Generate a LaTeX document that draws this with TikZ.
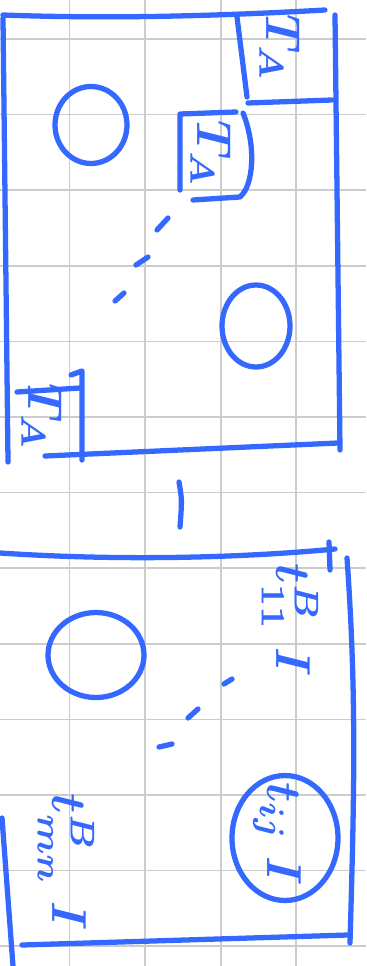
\documentclass[tikz,border=0pt]{standalone}
\usepackage{xcolor}
\usetikzlibrary{shapes.geometric}
\definecolor{pen}{RGB}{52,104,255}
\tikzset{
  ink/.style  ={draw=pen, line width=3pt, line cap=round, line join=round},
  paper/.style={draw=black!20, line width=1pt},
  zero/.style ={ink, ellipse, inner sep=0pt},
  entry/.style={text=pen, rotate=-90, scale=2.8, inner sep=0pt, font=\boldmath},
}

\begin{document}
\begin{tikzpicture}[x=0.02cm, y=-0.02cm]
  \useasboundingbox (0,0) rectangle (366,966);
  \foreach \k in {0,...,3} \draw[paper] (69.5+75.6*\k,0) -- (69.5+75.6*\k,966);
  \foreach \k in {0,...,12} \draw[paper] (0,39+75.6*\k) -- (366,39+75.6*\k);

  % upper block
  \draw[ink] (3,15) .. controls (110,19) and (220,16) .. (325,10);
  \draw[ink] (3,18) -- (8,462);
  \draw[ink] (335,15) -- (340,450);
  \draw[ink] (45,456) -- (338,443);
  \draw[ink] (237,17) -- (247,97);
  \draw[ink] (248,103) -- (332,100);
  \draw[ink] (180,190) -- (180,114) -- (236,112);
  \draw[ink] (243,113) .. controls (256,145) and (254,185) .. (240,197) -- (193,200);
  \draw[ink] (17,392) -- (80,388);
  \draw[ink] (71,375) -- (82,371) -- (82,460);

  \node[entry] (taOne) at (280,48)  {$T_A$};
  \node[entry] (taMid) at (211,154) {$T_A$};
  \node[entry] (taEnd) at (42,417)  {$T_A$};
  \node[zero, minimum width=1.44cm, minimum height=1.54cm] (zeroUp)    at (91,125)  {};
  \node[zero, minimum width=1.36cm, minimum height=1.64cm] (zeroRight) at (256,326) {};
  \foreach \xa/\ya/\xb/\yb in {157/230/168/218, 136/265/148/257, 115/301/124/293}
    \draw[ink] (\xa,\ya) -- (\xb,\yb);

  % separator
  \draw[ink] (179,482) .. controls (182,500) .. (180,527);

  % lower block
  \draw[ink] (0,553) .. controls (120,561) and (240,558) .. (335,549);
  \draw[ink] (329,542) -- (330,570);
  \draw[ink] (347,558) .. controls (357,700) and (354,800) .. (350,943);
  \draw[ink] (2,818) -- (13,966);
  \draw[ink] (22,945) -- (348,935);

  \node[entry] (tOne) at (290,620) {$t^B_{11}\;I$};
  \node[zero, minimum width=1.92cm, minimum height=1.7cm] (zeroLow) at (96,655) {};
  \foreach \xa/\ya/\xb/\yb in {224/684/232/679, 188/718/198/709, 159/747/172/744}
    \draw[ink] (\xa,\ya) -- (\xb,\yb);
  \node[entry] (tij) at (277,834) {$t_{ij}\;I$};
  \node[zero, minimum width=2.12cm, minimum height=2.5cm] (ring) at (285,838) {};
  \node[entry] (tmn) at (66,862) {$t^B_{mn}\;I$};
\end{tikzpicture}
\end{document}
